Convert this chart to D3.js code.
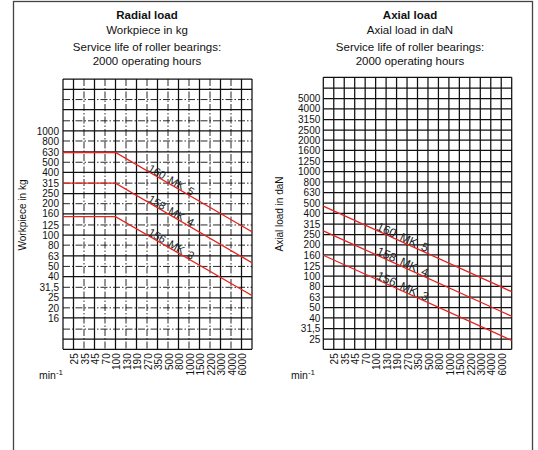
<!DOCTYPE html>
<html><head><meta charset="utf-8">
<script src="https://cdn.jsdelivr.net/npm/d3@7"></script>
<style>body{margin:0;background:#fff}svg{display:block;font-family:"Liberation Sans",Arial,Helvetica,sans-serif}</style>
</head><body><svg id="c" width="538" height="450"></svg>
<script>
// ---- data ----
const speeds = ["25","35","45","70","100","130","190","270","350","500","800","1000","1500","2200","3000","4000","6000"];
const radialTicks = [16,20,25,31.5,40,50,63,80,100,125,160,200,250,315,400,500,630,800,1000];
const axialTicks = [25,31.5,40,50,63,80,100,125,160,200,250,315,400,500,630,800,1000,1250,1600,2000,2500,3150,4000,5000];
const radialGrid = [8,10,12.5,16,20,25,31.5,40,50,63,80,100,125,160,200,250,315,400,500,630,800,1000,1250,1600,2000,2500,3150];
const axialGrid = [20,25,31.5,40,50,63,80,100,125,160,200,250,315,400,500,630,800,1000,1250,1600,2000,2500,3150,4000,5000,6300,8000];
const seriesNames = ["160 MK 5","158 MK 4","156 MK 3"];
// [speed, load]
const radialMK5 = [["25",620],["100",620],["6000",123]];
const radialMK4 = [["25",315],["100",315],["6000",62]];
const radialMK3 = [["25",150],["100",150],["6000",30]];
const axialMK5 = [["25",422],["6000",79]];
const axialMK4 = [["25",245],["6000",46]];
const axialMK3 = [["25",143],["6000",27]];

// ---- layout ----
const svg = d3.select("#c");
svg.append("rect").attr("x",13.5).attr("y",1.5).attr("width",519).attr("height",480)
  .attr("fill","none").attr("stroke","#444").attr("stroke-width",1.3);

const panels = [
  {id:"r", x0:63, x1:252, y0:79, y1:349.3, grid:radialGrid, ticks:radialTicks,
   series:[radialMK5,radialMK4,radialMK3], titles:["Radial load","Workpiece in kg","Service life of roller bearings:","2000 operating hours"],
   ylabel:"Workpiece in kg", tx:147, dashed:true, labelSpeed:"270", labelFont:11, yPad:4, minEnd:63, ylabX:26, ylabY:215},
  {id:"a", x0:323.3, x1:511.7, y0:77.3, y1:349.3, grid:axialGrid, ticks:axialTicks,
   series:[axialMK5,axialMK4,axialMK3], titles:["Axial load","Axial load in daN","Service life of roller bearings:","2000 operating hours"],
   ylabel:"Axial load in daN", tx:410, dashed:false, labelSpeed:"100", labelFont:12, yPad:3, minEnd:315, ylabX:283, ylabY:214}
];

const fmt = d => String(d).replace(".", ",");

panels.forEach(p => {
  const x = d3.scalePoint().domain(speeds).range([p.x0, p.x1]).padding(1);
  const y = d3.scaleLog().domain([p.grid[0], p.grid[p.grid.length-1]]).range([p.y1, p.y0]);
  const g = svg.append("g");
  const step = x.step();
  const vIdx = d3.range(speeds.length + 2);

  // titles
  const ty = [19, 34, 51, 65];
  p.titles.forEach((t,i) => {
    g.append("text").attr("x", p.tx).attr("y", ty[i]).attr("text-anchor","middle")
      .attr("font-size", "11.5px").attr("font-weight", i===0 ? "bold" : "normal").attr("fill","#111").text(t);
  });

  // grid
  const grid = g.append("g");
  p.grid.forEach((v,i) => {
    const border = i===0 || i===p.grid.length-1;
    const dash = p.dashed && !border && i%2===0;
    grid.append("line").attr("x1", p.x0).attr("x2", p.x1).attr("y1", y(v)).attr("y2", y(v))
      .attr("stroke","#111").attr("stroke-width", dash ? 0.9 : 1.25)
      .attr("stroke-dasharray", dash ? "7,2,1.5,2" : null);
  });
  vIdx.forEach(j => {
    const xx = p.x0 + j*step;
    const border = j===0 || j===vIdx.length-1;
    const dash = p.dashed && !border && j%2===0;
    grid.append("line").attr("x1", xx).attr("x2", xx).attr("y1", p.y0).attr("y2", p.y1)
      .attr("stroke","#111").attr("stroke-width", dash ? 0.9 : 1.25)
      .attr("stroke-dasharray", dash ? "7,2,1.5,2" : null);
  });

  // y axis
  const ya = g.append("g").attr("transform", `translate(${p.x0},0)`)
    .call(d3.axisLeft(y).tickValues(p.ticks).tickSize(0).tickPadding(p.yPad).tickFormat(fmt));
  ya.select(".domain").remove();
  ya.attr("font-family", null).attr("font-size", null);
  ya.selectAll("text").attr("font-size","10px").attr("fill","#111");

  // x axis
  const xa = g.append("g").attr("transform", `translate(0,${p.y1})`)
    .call(d3.axisBottom(x).tickSize(0).tickPadding(0));
  xa.select(".domain").remove();
  xa.attr("font-family", null).attr("font-size", null);
  xa.selectAll("text").attr("transform","rotate(-90)").attr("text-anchor","end")
    .attr("x",-4).attr("y",0).attr("dy","0.42em").attr("font-size","10px").attr("fill","#111");

  // min-1
  const mt = g.append("text").attr("x", p.minEnd).attr("y", 379).attr("text-anchor","end")
    .attr("font-size","10.5px").attr("fill","#111");
  mt.append("tspan").text("min");
  mt.append("tspan").attr("dy",-4).attr("font-size","8px").text("-1");

  // y label
  g.append("text").attr("transform", `translate(${p.ylabX},${p.ylabY}) rotate(-90)`)
    .attr("text-anchor","middle").attr("font-size","10px").attr("fill","#111").text(p.ylabel);

  // series
  const clipId = "clip" + p.id;
  g.append("clipPath").attr("id", clipId).append("rect")
    .attr("x", p.x0).attr("y", p.y0).attr("width", p.x1-p.x0).attr("height", p.y1-p.y0);
  p.series.forEach((s,k) => {
    const pts = s.map(([sp,v]) => [x(sp), y(v)]);
    const ext = pts.slice();
    const a0 = pts[0], a1 = pts[1];
    const ta = (p.x0 - 5 - a0[0]) / (a1[0]-a0[0]);
    ext.unshift([p.x0-5, a0[1] + ta*(a1[1]-a0[1])]);
    const b0 = pts[pts.length-2], b1 = pts[pts.length-1];
    const tb = (p.x1 + 5 - b0[0]) / (b1[0]-b0[0]);
    ext.push([p.x1+5, b0[1] + tb*(b1[1]-b0[1])]);
    g.append("path").attr("clip-path", `url(#${clipId})`).attr("d", d3.line()(ext))
      .attr("fill","none").attr("stroke","#e8231f").attr("stroke-width",1.3);

    // label along the line
    const lx = x(p.labelSpeed);
    let seg = 0;
    for (let i=0;i<ext.length-1;i++) if (lx>=ext[i][0] && lx<=ext[i+1][0]) seg = i;
    const q0 = ext[seg], q1 = ext[seg+1];
    const ly = q0[1] + (lx-q0[0])/(q1[0]-q0[0])*(q1[1]-q0[1]);
    const ang = Math.atan2(q1[1]-q0[1], q1[0]-q0[0]) * 180/Math.PI;
    g.append("text").attr("transform", `translate(${lx},${ly}) rotate(${ang})`)
      .attr("y", -0.5).attr("font-size", p.labelFont+"px").attr("word-spacing","2px")
      .attr("fill","#222").text(seriesNames[k]);
  });
});
</script></body></html>
